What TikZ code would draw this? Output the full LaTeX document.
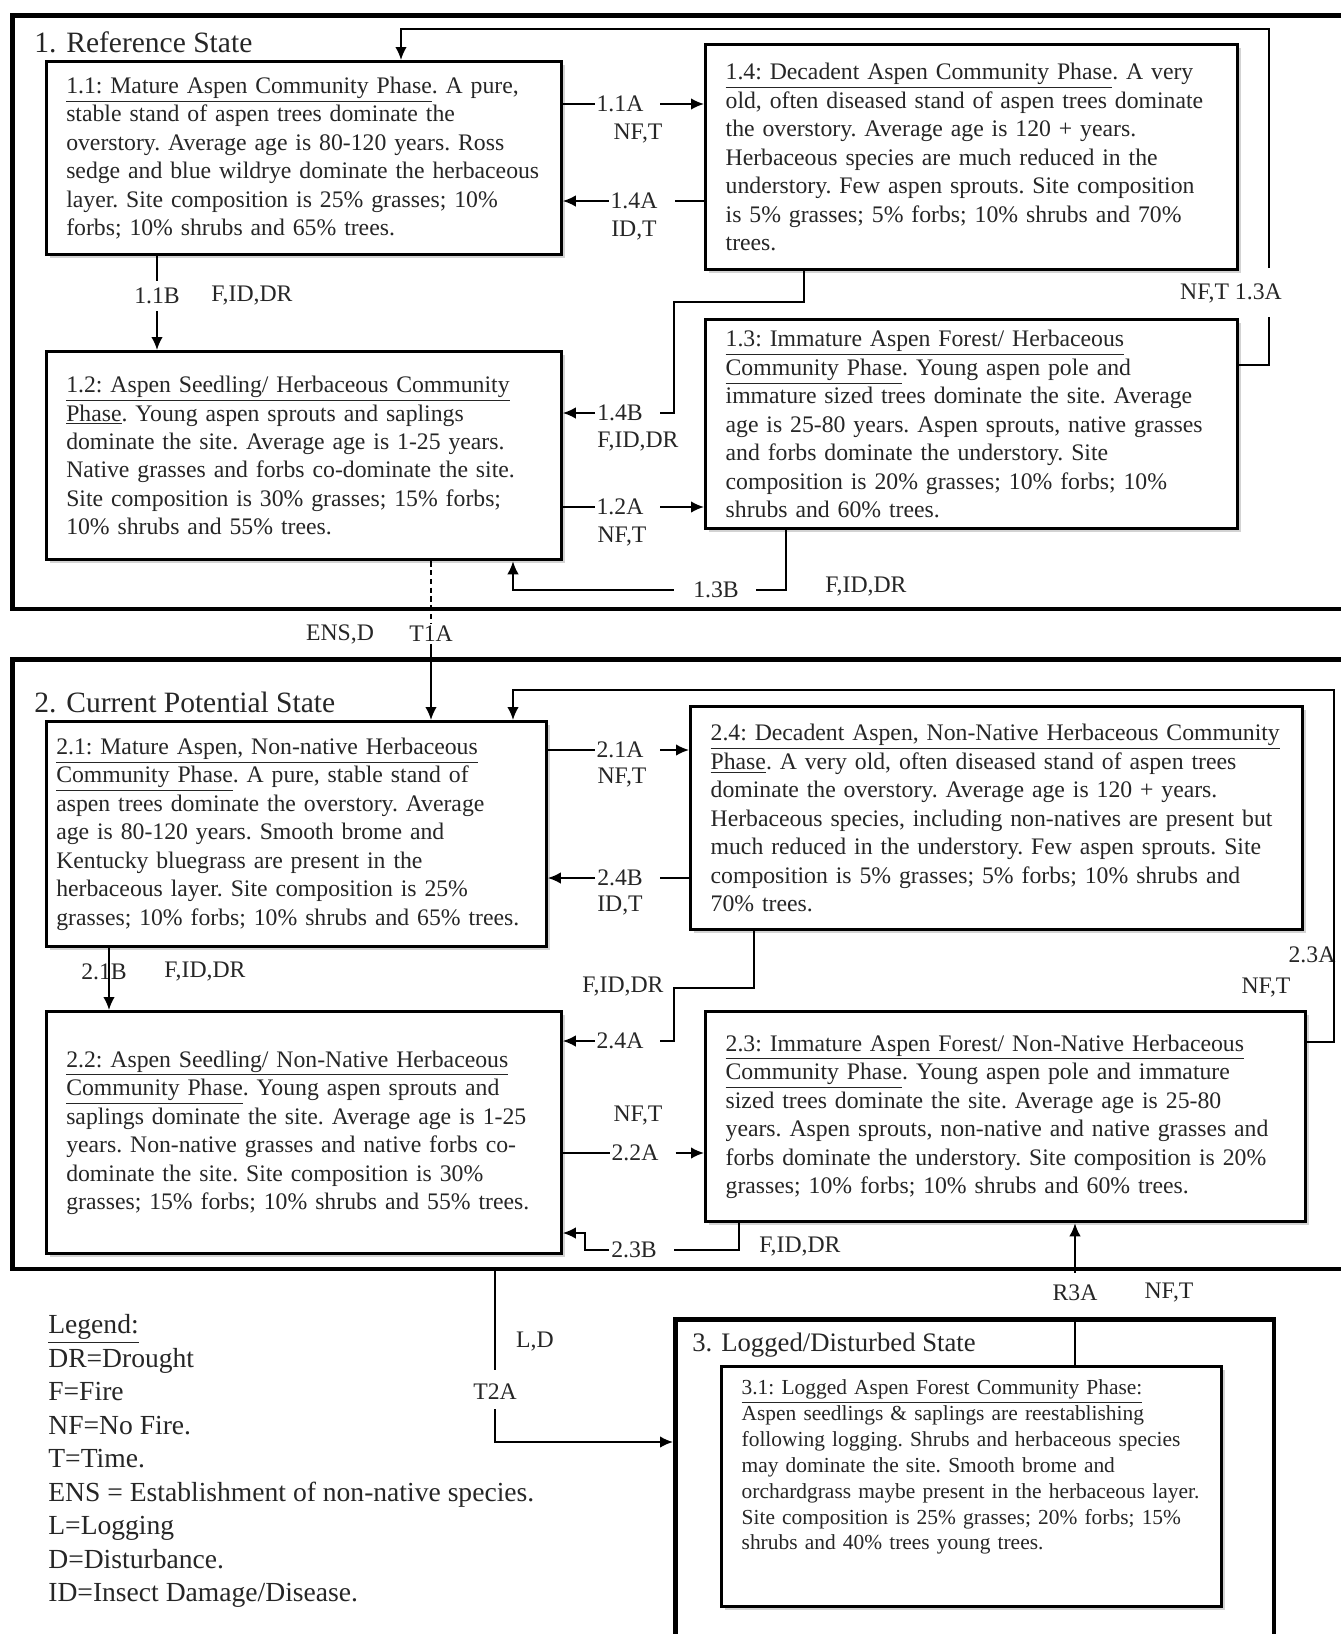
\documentclass[tikz,border=0pt]{standalone}
\usepackage{fontspec}
\setmainfont{Liberation Serif}
\usetikzlibrary{arrows.meta,positioning,shadows}

\begin{document}
\begin{tikzpicture}[x=0.02cm, y=-0.02cm,
    state/.style={draw, line width=2.6pt, anchor=north west, inner sep=0pt},
    phase/.style={draw, line width=1.9pt, fill=white, anchor=north west, align=left, inner xsep=0.4cm, inner ysep=0pt, font=\fontsize{13.5}{16.2}\selectfont\frenchspacing, text=black!85, drop shadow={shadow xshift=0.07cm, shadow yshift=-0.07cm, opacity=0.35}},
    lab/.style={inner sep=1pt, font=\fontsize{13.5}{16}\selectfont, text=black!85},
    ttl/.style={anchor=west, inner sep=0pt, font=\fontsize{16.8}{20}\selectfont, text=black!85},
    arrow/.style={-{Latex[length=2.6mm, width=2.3mm]}, line width=1pt},
    link/.style={line width=1pt}
  ]
    \useasboundingbox (0,0) rectangle (1340,1634);

    % state frames
    \node[state, minimum width=27cm, minimum height=11.88cm] (s1) at (10,13) {};
    \node[state, minimum width=27cm, minimum height=12.2cm] (s2) at (10,657) {};
    \node[state, minimum width=11.98cm, minimum height=6.86cm] (s3) at (673,1317) {};
    \node[ttl] (t1) at (34,42) {1. Reference State};
    \node[ttl] (t2) at (34,702) {2. Current Potential State};
    \node[ttl, font=\fontsize{15.2}{18}\selectfont] (t3) at (692,1345) {3. Logged/Disturbed State};

    % reference state phases
    \node[phase, text width=9.5cm, minimum width=10.3cm, minimum height=3.86cm] (p11) at (44.6,60) {\underline{1.1: Mature Aspen Community Phase}. A pure,\\ stable stand of aspen trees dominate  the\\ overstory.  Average age is 80-120 years. Ross\\ sedge and blue wildrye dominate  the herbaceous\\ layer.  Site composition is 25\% grasses; 10\%\\ forbs; 10\% shrubs and 65\% trees.};
    \node[phase, text width=9.84cm, minimum width=10.64cm, minimum height=4.5cm] (p14) at (704,43) {\underline{1.4: Decadent Aspen Community Phase}. A very\\ old, often diseased stand of aspen trees dominate\\ the overstory.  Average age is 120 + years.\\ Herbaceous species are much reduced in the\\ understory. Few aspen sprouts. Site composition\\ is 5\% grasses; 5\% forbs; 10\% shrubs and 70\%\\ trees.};
    \node[phase, text width=9.5cm, minimum width=10.3cm, minimum height=4.16cm] (p12) at (44.6,350) {\underline{1.2: Aspen Seedling/ Herbaceous Community}\\ \underline{Phase}. Young aspen sprouts and saplings\\ dominate the site.  Average age is 1-25 years.\\ Native grasses and forbs co-dominate  the site.\\ Site composition is 30\% grasses; 15\% forbs;\\ 10\% shrubs and 55\% trees.};
    \node[phase, text width=9.84cm, minimum width=10.64cm, minimum height=4.18cm] (p13) at (704,318) {\underline{1.3: Immature  Aspen Forest/ Herbaceous}\\ \underline{Community Phase}. Young aspen pole and\\ immature sized trees dominate  the site.  Average\\ age is 25-80 years. Aspen sprouts, native  grasses\\ and forbs dominate  the understory.  Site\\ composition is 20\% grasses; 10\% forbs; 10\%\\ shrubs and 60\% trees.};

    % current potential state phases
    \node[phase, text width=9.6cm, inner xsep=0.2cm, minimum width=10cm, minimum height=4.5cm] (p21) at (44.6,720) {\underline{2.1: Mature Aspen, Non-native Herbaceous}\\ \underline{Community Phase}. A pure, stable stand of\\ aspen trees dominate  the overstory.  Average\\ age is 80-120 years. Smooth brome and\\ Kentucky bluegrass are present in the\\ herbaceous layer.  Site composition is 25\%\\ grasses; 10\% forbs; 10\% shrubs and 65\% trees.};
    \node[phase, text width=11.44cm, minimum width=12.24cm, minimum height=4.46cm] (p24) at (689,705) {\underline{2.4: Decadent Aspen, Non-Native Herbaceous Community}\\ \underline{Phase}. A very old, often diseased stand of aspen trees\\ dominate  the overstory.  Average age is 120 + years.\\ Herbaceous species, including  non-natives are present but\\ much reduced in the  understory.  Few aspen sprouts. Site\\ composition is 5\% grasses; 5\% forbs; 10\% shrubs and\\ 70\% trees.};
    \node[phase, text width=9.5cm, minimum width=10.3cm, minimum height=4.84cm] (p22) at (44.6,1010) {\underline{2.2: Aspen Seedling/ Non-Native Herbaceous}\\ \underline{Community Phase}. Young aspen sprouts and\\ saplings dominate  the site.  Average age is 1-25\\ years. Non-native grasses and native  forbs co-\\ dominate  the site.  Site composition is 30\%\\ grasses; 15\% forbs; 10\% shrubs and 55\% trees.};
    \node[phase, text width=11.2cm, minimum width=12cm, minimum height=4.2cm] (p23) at (704,1010) {\underline{2.3: Immature  Aspen Forest/ Non-Native Herbaceous}\\ \underline{Community Phase}. Young aspen pole and immature\\ sized trees dominate  the site.  Average age is 25-80\\ years. Aspen sprouts, non-native and native  grasses and\\ forbs dominate the  understory. Site composition is 20\%\\ grasses; 10\% forbs; 10\% shrubs and 60\% trees.};

    % logged state phase
    \node[phase, text width=9.2cm, minimum width=10cm, minimum height=4.8cm, font=\fontsize{12.2}{14.7}\selectfont\frenchspacing] (p31) at (720,1365) {\underline{3.1: Logged Aspen Forest Community Phase:}\\ Aspen seedlings \& saplings are reestablishing\\ following logging. Shrubs and herbaceous species\\ may dominate the site. Smooth brome and\\ orchardgrass maybe present in the herbaceous layer.\\ Site composition is 25\% grasses; 20\% forbs; 15\%\\ shrubs and 40\% trees young trees.\\[10pt]\mbox{}};

    % transitions in state 1
    \node[lab] (a11) at (620,104) {1.1A};
    \node[lab] (a11n) at (638,134) {NF,T};
    \draw[link] (p11.east |- a11) -- (a11.west);
    \draw[arrow] ([xshift=0.3cm]a11.east) -- (p14.west |- a11);

    \node[lab] (a14) at (634,201) {1.4A};
    \node[lab] (a14n) at (634,231) {ID,T};
    \draw[link] (p14.west |- a14) -- ([xshift=0.3cm]a14.east);
    \draw[arrow] (a14.west) -- (p11.east |- a14);

    \node[lab] (b11) at (157,296) {1.1B};
    \node[lab] (b11n) at (252,296) {F,ID,DR};
    \draw[link] (p11.south -| b11) -- ([yshift=0.1cm]b11.north);
    \draw[arrow] ([yshift=-0.1cm]b11.south) -- (p12.north -| b11);

    \node[lab] (a14b) at (620,413) {1.4B};
    \node[lab] (a14bn) at (638,442) {F,ID,DR};
    \draw[link] (p14.south -| 804,0) |- (674,302) |- ([xshift=0.3cm]a14b.east);
    \draw[arrow] (a14b.west) -- (p12.east |- a14b);

    \node[lab] (a12) at (620,507) {1.2A};
    \node[lab] (a12n) at (622,537) {NF,T};
    \draw[link] (p12.east |- a12) -- (a12.west);
    \draw[arrow] ([xshift=0.3cm]a12.east) -- (p13.west |- a12);

    \node[lab] (b13) at (716,590) {1.3B};
    \node[lab] (b13n) at (866,587) {F,ID,DR};
    \draw[link] (p13.south -| 786,0) |- ([xshift=0.3cm]b13.east);
    \draw[arrow] ([xshift=-0.35cm]b13.west) -| (p12.south -| 513,0);

    \node[lab] (a13) at (1231,293) {NF,T 1.3A};
    \coordinate (c13low) at (1269,317);
    \coordinate (c13up) at (1269,268);
    \draw[link] (p13.east |- 0,365) -| (c13low);
    \draw[arrow] (c13up) |- (401,29) -- (p11.north -| 401,0);

    % state 1 to state 2
    \node[lab] (t1a) at (431,634) {T1A};
    \node[lab] (t1an) at (340,634) {ENS,D};
    \draw[densely dashed, line width=0.6pt] (p12.south -| t1a) -- (t1a.north);
    \draw[arrow] (t1a.south) -- (p21.north -| t1a);

    % transitions in state 2
    \node[lab] (a21) at (620,750) {2.1A};
    \node[lab] (a21n) at (622,778) {NF,T};
    \draw[link] (p21.east |- a21) -- (a21.west);
    \draw[arrow] ([xshift=0.3cm]a21.east) -- (p24.west |- a21);

    \node[lab] (a24b) at (620,878) {2.4B};
    \node[lab] (a24bn) at (620,906) {ID,T};
    \draw[link] (p24.west |- a24b) -- ([xshift=0.3cm]a24b.east);
    \draw[arrow] (a24b.west) -- (p21.east |- a24b);

    \node[lab] (b21) at (104,972) {2.1B};
    \node[lab] (b21n) at (205,972) {F,ID,DR};
    \draw[arrow] (p21.south -| 109,0) -- (p22.north -| 109,0);

    \node[lab] (a24a) at (620,1041) {2.4A};
    \node[lab] (a24an) at (623,987) {F,ID,DR};
    \draw[link] (p24.south -| 754,0) |- (674,988) |- ([xshift=0.3cm]a24a.east);
    \draw[arrow] (a24a.west) -- (p22.east |- a24a);

    \node[lab] (a22) at (635,1153) {2.2A};
    \node[lab] (a22n) at (638,1116) {NF,T};
    \draw[link] (p22.east |- a22) -- (a22.west);
    \draw[arrow] ([xshift=0.3cm]a22.east) -- (p23.west |- a22);

    \node[lab] (a23) at (1312,955) {2.3A};
    \node[lab] (a23n) at (1266,988) {NF,T};
    \draw[arrow] (p23.east |- 0,1042) -| (1334,690) -| (p21.north -| 513,0);

    \node[lab] (b23) at (634,1250) {2.3B};
    \node[lab] (b23n) at (800,1247) {F,ID,DR};
    \draw[link] (p23.south -| 739,0) |- ([xshift=0.3cm]b23.east);
    \draw[arrow] (b23.west) -| (585,1233) -- (p22.east |- 0,1233);

    % state 2 and state 3
    \node[lab] (t2a) at (495,1392) {T2A};
    \node[lab] (t2an) at (535,1342) {L,D};
    \draw[link] (s2.south -| t2a) -- ([yshift=0.25cm]t2a.north);
    \draw[arrow] ([yshift=-0.15cm]t2a.south) |- (s3.west |- 0,1442);

    \node[lab] (r3a) at (1075,1293) {R3A};
    \node[lab] (r3an) at (1169,1293) {NF,T};
    \draw[link] (p31.north -| r3a) -- ([yshift=-0.3cm]r3a.south);
    \draw[arrow] ([yshift=0.2cm]r3a.north) -- (p23.south -| r3a);

    % legend
    \node[anchor=north west, align=left, inner sep=0pt, font=\fontsize{15.7}{19.1}\selectfont, text=black!85] (legend) at (48,1314) {\underline{Legend:}\\ DR=Drought\\ F=Fire\\ NF=No Fire.\\ T=Time.\\ ENS = Establishment of non-native species.\\ L=Logging\\ D=Disturbance.\\ ID=Insect Damage/Disease.};
\end{tikzpicture}
\end{document}
